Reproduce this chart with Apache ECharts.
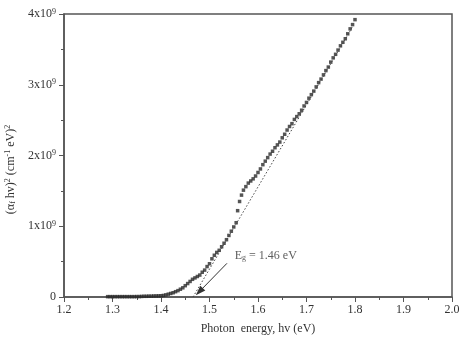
<!doctype html>
<html>
<head>
<meta charset="utf-8">
<script src="https://cdn.jsdelivr.net/npm/echarts@6/dist/echarts.min.js"></script>
<style>
  html,body{margin:0;padding:0;background:#fff}
  #chart{width:460px;height:341px}
</style>
</head>
<body>
<div id="chart"></div>
<script>
// photon energy (eV) and (alpha hv)^2 in units of 1e9 (cm^-1 eV)^2
const energy = [
  1.290, 1.295, 1.300, 1.305, 1.310, 1.315, 1.320, 1.325, 1.330, 1.335,
  1.340, 1.345, 1.350, 1.355, 1.360, 1.365, 1.370, 1.375, 1.380, 1.385,
  1.390, 1.395, 1.400, 1.405, 1.410, 1.415, 1.420, 1.425, 1.430, 1.435,
  1.440, 1.445, 1.450, 1.455, 1.460, 1.465, 1.470, 1.475, 1.480, 1.485,
  1.490, 1.495, 1.500, 1.505, 1.510, 1.515, 1.520, 1.525, 1.530, 1.535,
  1.540, 1.545, 1.550, 1.555, 1.558, 1.562, 1.566, 1.570, 1.575, 1.580,
  1.585, 1.590, 1.595, 1.600, 1.605, 1.610, 1.615, 1.620, 1.625, 1.630,
  1.635, 1.640, 1.645, 1.650, 1.655, 1.660, 1.665, 1.670, 1.675, 1.680,
  1.685, 1.690, 1.695, 1.700, 1.705, 1.710, 1.715, 1.720, 1.725, 1.730,
  1.735, 1.740, 1.745, 1.750, 1.755, 1.760, 1.765, 1.770, 1.775, 1.780,
  1.785, 1.790, 1.795, 1.800
];
const absorption = [
  0.005, 0.005, 0.005, 0.005, 0.005, 0.005, 0.005, 0.005, 0.005, 0.005,
  0.005, 0.005, 0.006, 0.006, 0.008, 0.010, 0.010, 0.012, 0.012, 0.014,
  0.015, 0.016, 0.018, 0.022, 0.030, 0.040, 0.050, 0.060, 0.075, 0.090,
  0.110, 0.130, 0.160, 0.190, 0.220, 0.250, 0.270, 0.290, 0.310, 0.350,
  0.380, 0.430, 0.470, 0.540, 0.590, 0.630, 0.660, 0.710, 0.760, 0.810,
  0.870, 0.930, 0.990, 1.050, 1.220, 1.350, 1.440, 1.510, 1.560, 1.610,
  1.640, 1.670, 1.710, 1.760, 1.810, 1.870, 1.920, 1.970, 2.020, 2.060,
  2.110, 2.150, 2.190, 2.250, 2.300, 2.360, 2.410, 2.450, 2.510, 2.550,
  2.590, 2.640, 2.700, 2.750, 2.810, 2.860, 2.910, 2.970, 3.030, 3.080,
  3.140, 3.200, 3.250, 3.320, 3.380, 3.430, 3.490, 3.550, 3.600, 3.650,
  3.720, 3.790, 3.850, 3.920
];
// linear extrapolation to the energy axis
const tangentX = [1.466, 1.795];
const tangentY = [0, 3.82];
// annotation arrow (from label to intercept)
const arrowFrom = [1.536, 0.476];
const arrowTo = [1.479, 0.075];
const labelPos = [1.552, 0.58];

const xTicks = ['1.2', '1.3', '1.4', '1.5', '1.6', '1.7', '1.8', '1.9', '2.0'];
const yTickLabels = ['0', '1x10', '2x10', '3x10', '4x10'];

const FONT = '"Liberation Serif", "DejaVu Serif", serif';
const TXT = '#333';
const AX = '#555';

const chart = echarts.init(document.getElementById('chart'), null, { renderer: 'canvas' });

const points = energy.map((e, i) => [e, absorption[i]]);
const tangent = tangentX.map((x, i) => [x, tangentY[i]]);

const supStyle = { fontFamily: FONT, fontSize: 8, color: TXT, verticalAlign: 'top', padding: [0, 0, 5, 0] };
const subStyle = { fontFamily: FONT, fontSize: 8, color: TXT, verticalAlign: 'bottom', padding: [4, 0, 0, 0] };
const txtStyle = { fontFamily: FONT, fontSize: 12, color: TXT };

chart.setOption({
  animation: false,
  backgroundColor: '#fff',
  grid: {
    left: 64, right: 8, top: 14, bottom: 44, containLabel: false, outerBoundsMode: 'none',
    show: true, borderColor: AX, borderWidth: 1.5
  },
  xAxis: {
    type: 'value', min: 1.2, max: 2.0, interval: 0.1,
    name: 'Photon  energy, hv (eV)', nameLocation: 'middle', nameGap: 26,
    nameTextStyle: { fontFamily: FONT, fontSize: 12, color: TXT },
    axisLine: { lineStyle: { color: AX, width: 1.5 } },
    axisTick: { length: 5, lineStyle: { color: AX, width: 1 } },
    minorTick: { show: true, splitNumber: 2, length: 3, lineStyle: { color: AX } },
    splitLine: { show: false },
    axisLabel: {
      fontFamily: FONT, fontSize: 12, color: TXT, margin: 7,
      formatter: v => xTicks[Math.round((v - 1.2) * 10)]
    }
  },
  yAxis: {
    type: 'value', min: 0, max: 4, interval: 1,
    name: '{t|(α}{sb|f}{t| hv)}{sp|2}{t| (cm}{sp|-1}{t| eV)}{sp|2}',
    nameLocation: 'middle', nameGap: 40, nameRotate: 90,
    nameTextStyle: { padding: [0, 28, 0, 0], rich: { t: txtStyle, sp: supStyle, sb: subStyle } },
    axisLine: { show: true, lineStyle: { color: AX, width: 1.5 } },
    axisTick: { show: true, length: 5, lineStyle: { color: AX, width: 1 } },
    minorTick: { show: true, splitNumber: 2, length: 3, lineStyle: { color: AX } },
    splitLine: { show: false },
    axisLabel: {
      margin: 8,
      formatter: v => v === 0 ? '{t|0}' : '{t|' + yTickLabels[Math.round(v)] + '}{sp|9}',
      rich: { t: txtStyle, sp: supStyle }
    }
  },
  series: [
    {
      name: 'tangent', type: 'line', data: tangent, symbol: 'none', silent: true,
      lineStyle: { color: '#444', width: 1, type: [1.5, 2] }
    },
    {
      name: 'data', type: 'scatter', data: points, symbol: 'rect', symbolSize: 3.5,
      itemStyle: { color: '#2a2a2a' }
    },
    {
      name: 'label', type: 'scatter', data: [labelPos], symbolSize: 0,
      label: {
        show: true, position: 'right', distance: 0,
        formatter: '{t|E}{sb|g}{t| = 1.46 eV}',
        rich: { t: txtStyle, sb: subStyle }
      },
      markLine: {
        silent: true, symbol: ['none', 'triangle'], symbolSize: [7, 10],
        label: { show: false },
        lineStyle: { color: '#333', width: 1, type: 'solid' },
        data: [[{ coord: arrowFrom }, { coord: arrowTo }]]
      }
    }
  ]
});
</script>
</body>
</html>
